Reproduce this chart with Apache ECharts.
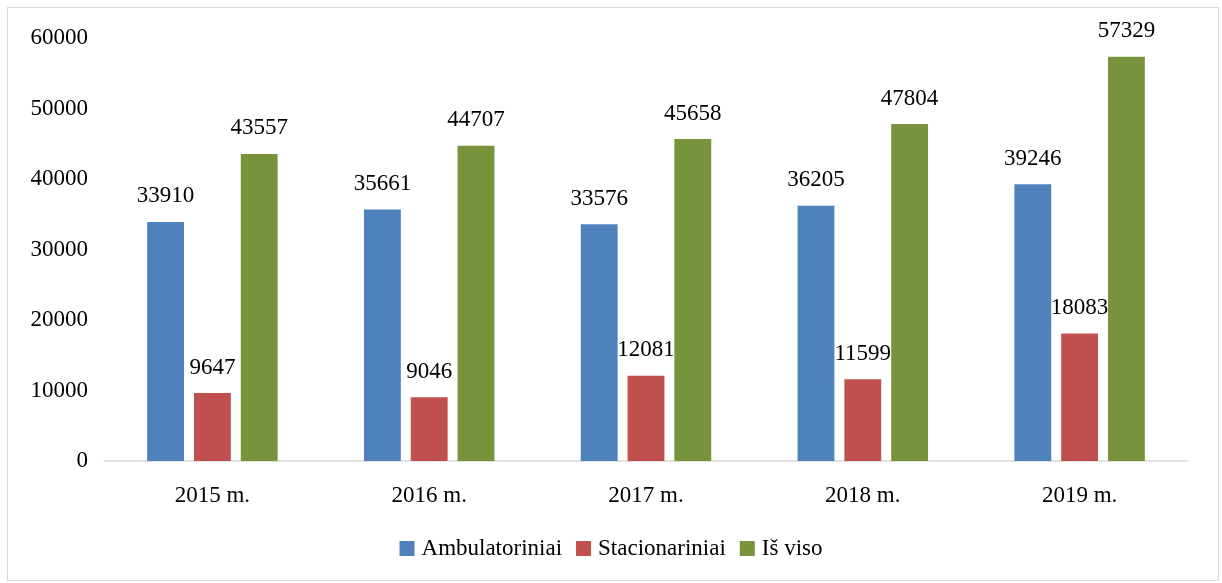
<!DOCTYPE html>
<html>
<head>
<meta charset="utf-8">
<style>
  html, body { margin: 0; padding: 0; background: #fff; }
  #frame { position: absolute; left: 7px; top: 7px; width: 1210px; height: 572px; border: 1px solid #d9d9d9; }
  #main { position: absolute; left: 0; top: 0; width: 1222px; height: 583px; }
</style>
</head>
<body>
<div id="frame"></div>
<div id="main"></div>
<script src="https://cdn.jsdelivr.net/npm/echarts@6/dist/echarts.min.js"></script>
<script>
// duomenys
var years = ['2015 m.', '2016 m.', '2017 m.', '2018 m.', '2019 m.'];
var ambulatoriniai = [33910, 35661, 33576, 36205, 39246];
var stacionariniai = [9647, 9046, 12081, 11599, 18083];
var isViso = [43557, 44707, 45658, 47804, 57329];

var font = 'Liberation Serif, Times New Roman, serif';
var chart = echarts.init(document.getElementById('main'));

function bar(name, data, color) {
  return {
    name: name,
    type: 'bar',
    data: data,
    barWidth: '17%',
    barGap: '27%',
    itemStyle: { color: color },
    label: {
      show: true,
      position: 'top',
      distance: 14,
      color: '#000',
      fontFamily: font,
      fontSize: 23
    }
  };
}

chart.setOption({
  animation: false,
  grid: { left: 104, right: 34, top: 38, bottom: 122 },
  legend: {
    bottom: 18,
    left: 'center',
    itemWidth: 15,
    itemHeight: 15,
    itemGap: 14,
    icon: 'rect',
    textStyle: { fontFamily: font, fontSize: 23, color: '#000', padding: [0, 0, 0, 2] },
    data: ['Ambulatoriniai', 'Stacionariniai', 'Iš viso']
  },
  xAxis: {
    type: 'category',
    data: years,
    axisLine: { lineStyle: { color: '#d9d9d9', width: 1.5 } },
    axisTick: { show: false },
    axisLabel: { color: '#000', fontFamily: font, fontSize: 23, margin: 23 }
  },
  yAxis: {
    type: 'value',
    min: 0,
    max: 60000,
    interval: 10000,
    splitLine: { show: false },
    axisLine: { show: false },
    axisTick: { show: false },
    axisLabel: {
      color: '#000', fontFamily: font, fontSize: 23, margin: 16,
      formatter: function (v) { return String(v); }
    }
  },
  series: [
    bar('Ambulatoriniai', ambulatoriniai, '#4f81bd'),
    bar('Stacionariniai', stacionariniai, '#c0504d'),
    bar('Iš viso', isViso, '#77933c')
  ]
});
</script>
</body>
</html>
